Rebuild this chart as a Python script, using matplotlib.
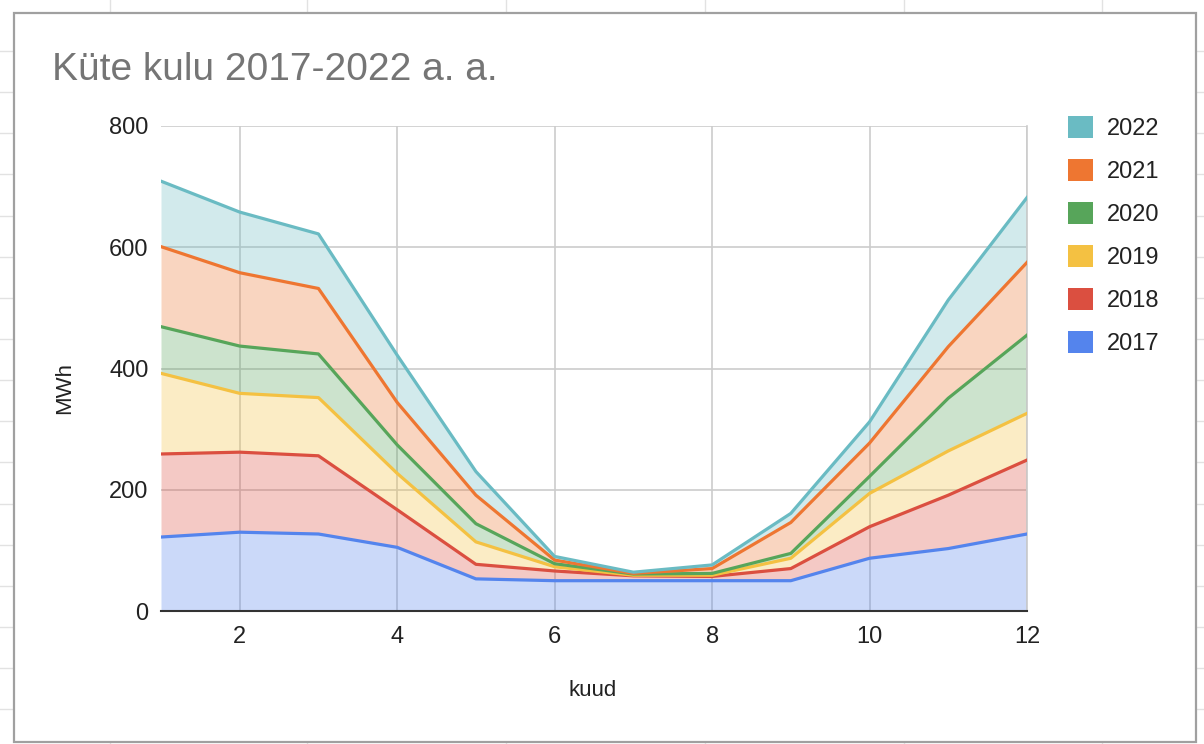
import numpy as np
import matplotlib
matplotlib.use("Agg")
import matplotlib.pyplot as plt
from matplotlib.patches import Patch, Rectangle
from matplotlib.lines import Line2D

plt.rcParams['font.family'] = ['Liberation Sans', 'DejaVu Sans']

# data (MWh per month, per year)
months = [1, 2, 3, 4, 5, 6, 7, 8, 9, 10, 11, 12]
years = ["2017", "2018", "2019", "2020", "2021", "2022"]
y2017 = [122, 130, 127, 105, 53, 50, 50, 50, 50, 87, 103, 127]
y2018 = [137, 132, 129, 62, 24, 16, 8, 7, 20, 52, 88, 122]
y2019 = [133, 97, 96, 60, 37, 7, 1, 2, 17, 55, 73, 77]
y2020 = [77, 78, 72, 47, 30, 5, 2, 3, 8, 28, 87, 129]
y2021 = [132, 121, 108, 70, 47, 6, 1, 8, 51, 55, 85, 120]
y2022 = [108, 100, 90, 78, 39, 6, 2, 6, 15, 35, 77, 107]
series = [y2017, y2018, y2019, y2020, y2021, y2022]
colors = ["#5484ed", "#db4f40", "#f4c142", "#57a55a", "#ee7631", "#6abbc3"]

W, H = 1204, 744
fig = plt.figure(figsize=(W / 100, H / 100), dpi=100)
fig.patch.set_facecolor("white")

# spreadsheet grid peeking out around the chart
for x in [110, 307, 506, 705, 904, 1102]:
    fig.add_artist(Line2D([x / W, x / W], [0, 1], color="#e2e2e2", lw=1, zorder=-3))
for k in range(18):
    y = 51 + 41.15 * k
    fig.add_artist(Line2D([0, 1], [1 - y / H, 1 - y / H], color="#e2e2e2", lw=1, zorder=-3))
fig.add_artist(Rectangle((14 / W, 1 - 742 / H), 1182 / W, 729 / H,
                         facecolor="white", edgecolor="#a0a0a0", lw=1.6, zorder=-2))

ax = fig.add_axes([161 / W, 1 - 611 / H, 866 / W, 485 / H])

bottom = np.zeros(len(months))
for name, vals, c in zip(years, series, colors):
    top = bottom + np.array(vals)
    ax.fill_between(months, bottom, top, color=c, alpha=0.3, lw=0, zorder=2)
    ax.plot(months, top, color=c, lw=2.3, zorder=3, solid_joinstyle="round")
    bottom = top

ax.set_xlim(1, 12)
ax.set_ylim(0, 800)
ax.set_xticks([2, 4, 6, 8, 10, 12])
ax.set_yticks([0, 200, 400, 600, 800])
ax.grid(True, color="#cccccc", lw=1.2, zorder=1)
ax.set_axisbelow(True)
for s in ["left", "top"]:
    ax.spines[s].set_visible(False)
ax.spines["right"].set_color("#cccccc")
ax.spines["right"].set_linewidth(1.2)
ax.spines["bottom"].set_color("#333333")
ax.spines["bottom"].set_linewidth(1.5)
ax.spines["bottom"].set_zorder(4)
ax.tick_params(axis="both", length=0, labelsize=17, colors="#222222")
ax.tick_params(axis="y", pad=9)
ax.tick_params(axis="x", pad=11)

fig.text(52 / W, 1 - 70 / H, "Küte kulu 2017-2022 a. a.", fontsize=28,
         color="#757575", ha="left", va="center")
fig.text(65 / W, 1 - 388 / H, "MWh", fontsize=16, color="#222222",
         rotation=90, ha="center", va="center")
fig.text(593 / W, 1 - 690 / H, "kuud", fontsize=16, color="#222222",
         ha="center", va="center")

handles = [Patch(facecolor=c, edgecolor="none") for c in colors][::-1]
fig.legend(handles, years[::-1], loc="upper left",
           bbox_to_anchor=(1047 / W, 1 - 95 / H), frameon=False,
           fontsize=17, handlelength=1.05, handleheight=1.05,
           handletextpad=0.6, labelspacing=0.8, labelcolor="#222222")

fig.savefig("out.png", dpi=100)
